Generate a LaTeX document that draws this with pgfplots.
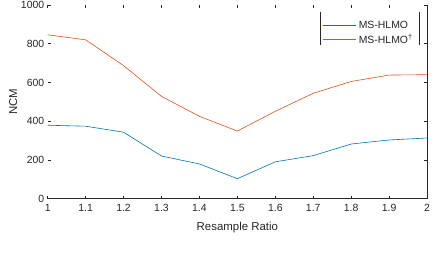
\documentclass[border=0pt]{standalone}
\usepackage{pgfplots}
\pgfplotsset{compat=1.18}
\usepackage{fontspec}
\setmainfont{Liberation Sans}
\definecolor{mblue}{RGB}{0,114,189}
\definecolor{morange}{RGB}{217,83,25}
\definecolor{txt}{RGB}{38,38,38}
\begin{document}
\begin{tikzpicture}
\useasboundingbox (-48pt,-70pt) rectangle (391pt,200pt);
\begin{axis}[
  scale only axis, width=382pt, height=195pt,
  xmin=1, xmax=2, ymin=0, ymax=1000,
  clip=false,
  xtick={1,1.1,...,2.01}, ytick={0,200,...,1000},
  xticklabels={1,1.1,1.2,1.3,1.4,1.5,1.6,1.7,1.8,1.9,2},
  tick align=inside, major tick length=3pt,
  tick style={txt, line width=0.5pt},
  axis line style={draw=none},
  ticklabel style={font=\fontsize{10.5}{12}\selectfont, text=txt},
  xticklabel style={yshift=-2pt},
  /pgf/number format/assume math mode=true,
  /pgf/number format/1000 sep={},
  xlabel={Resample Ratio}, ylabel={NCM},
  label style={font=\fontsize{11.5}{13}\selectfont, text=txt},
  xlabel style={yshift=-4pt},
  ylabel style={yshift=-3pt},
  legend style={at={(0.718,0.94)}, anchor=north west, draw=none, fill=none,
    font=\fontsize{10.5}{12}\selectfont, row sep=1pt,
    inner sep=2pt},
  legend cell align=left,
  legend image code/.code={\draw[#1, line width=0.8pt] (0pt,0pt) -- (34pt,0pt);},
]
\addplot[mblue, line width=0.6pt] coordinates {
(1.0,379) (1.1,374) (1.2,343) (1.3,220) (1.4,179) (1.5,103)
(1.6,190) (1.7,222) (1.8,282) (1.9,303) (2.0,313)};
\addlegendentry{\textcolor{txt}{MS-HLMO}}
\addplot[morange, line width=0.6pt] coordinates {
(1.0,846) (1.1,820) (1.2,687) (1.3,528) (1.4,425) (1.5,349)
(1.6,451) (1.7,544) (1.8,605) (1.9,638) (2.0,640)};
\addlegendentry{\textcolor{txt}{MS-HLMO\textsuperscript{\textdagger}}}
\draw[txt, line width=0.7pt] (axis cs:1,0) -- (axis cs:2,0) -- (axis cs:2,1000);
\draw[txt, line width=0.5pt] (rel axis cs:0.718,0.964) -- (rel axis cs:0.718,0.795);
\draw[txt, line width=0.5pt] (rel axis cs:0.979,0.964) -- (rel axis cs:0.979,0.795);
\end{axis}
\end{tikzpicture}
\end{document}
